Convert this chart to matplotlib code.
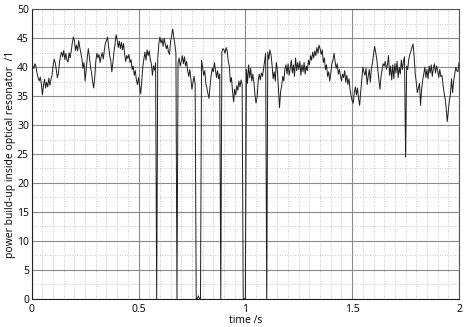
import numpy as np
import matplotlib
matplotlib.use("Agg")
import matplotlib.pyplot as plt
from matplotlib.ticker import MultipleLocator

# sampled trace, dt = 0.005 s, t = 0 ... 2 s
dt = 0.005
power = [
    39.5, 40.2, 39.8, 40.6, 40.1, 38.9, 38.2, 37.6, 38.3, 37.2,
    35.2, 36.8, 37.9, 36.4, 37.4, 36.6, 38.1, 36.9, 37.8, 38.6,
    40.2, 41.4, 40.8, 39.6, 38.2, 38.9, 40.8, 42.0, 42.6, 41.8,
    42.9, 41.3, 42.4, 41.2, 40.9, 42.5, 41.6, 42.8, 44.2, 45.2,
    44.6, 42.9, 43.8, 42.8, 44.6, 43.4, 42.5, 41.5, 39.8, 40.8,
    37.6, 39.5, 41.6, 43.2, 41.8, 40.2, 39.0, 37.5, 36.4, 38.2,
    41.0, 42.4, 41.6, 42.2, 40.8, 41.8, 42.5, 41.4, 42.9, 44.2,
    44.6, 45.2, 43.6, 42.0, 41.2, 39.2, 40.8, 42.6, 44.0, 45.6,
    44.8, 43.4, 44.5, 43.2, 44.3, 43.0, 44.1, 42.2, 41.0, 42.0,
    41.5, 42.2, 40.8, 41.3, 39.6, 40.2, 38.6, 39.4, 37.8, 37.0,
    38.2, 36.8, 35.4, 37.5, 40.0, 41.4, 42.6, 41.2, 43.0, 42.0,
    42.8, 41.4, 40.6, 38.6, 40.2, 39.5, 40.8, 0.0, 41.5, 44.0,
    45.2, 44.2, 44.8, 43.6, 45.0, 44.0, 43.2, 43.8, 42.6, 42.2,
    44.5, 45.4, 46.6, 45.2, 44.0, 42.4, 0.0, 40.8, 41.6, 40.2,
    41.0, 42.0, 40.6, 41.8, 40.2, 41.0, 39.4, 38.4, 39.6, 38.0,
    36.2, 37.4, 38.4, 37.0, 0.0, 0.0, 0.5, 0.0, 0.0, 41.2,
    40.0, 38.6, 39.4, 37.2, 36.4, 35.4, 34.6, 36.8, 38.6, 39.8,
    39.2, 40.8, 39.6, 38.2, 39.4, 38.0, 38.8, 0.0, 42.6, 43.2,
    43.0, 42.4, 43.4, 42.8, 41.0, 40.2, 37.4, 38.2, 35.8, 34.0,
    36.2, 35.2, 36.8, 36.0, 37.6, 36.6, 37.8, 37.0, 0.0, 0.0,
    0.0, 39.6, 37.2, 40.4, 38.2, 39.8, 37.6, 38.8, 37.4, 35.2,
    33.8, 34.8, 37.6, 38.8, 37.8, 39.0, 38.4, 39.6, 41.0, 42.4,
    0.0, 42.6, 41.4, 43.0, 42.2, 40.4, 38.0, 39.2, 37.6, 40.8,
    39.4, 36.2, 33.0, 35.8, 36.8, 38.4, 37.6, 39.6, 40.4, 38.8,
    40.6, 38.6, 39.8, 41.2, 39.0, 40.4, 38.4, 41.6, 39.4, 40.8,
    39.6, 41.0, 38.6, 40.4, 39.2, 40.8, 38.8, 40.2, 39.4, 41.2,
    40.4, 42.0, 41.2, 42.6, 41.6, 42.8, 42.0, 43.4, 42.4, 43.8,
    43.2, 42.2, 43.0, 40.8, 41.6, 39.6, 40.4, 38.4, 39.2, 37.6,
    39.0, 40.6, 41.2, 42.4, 41.0, 39.8, 40.6, 38.8, 39.6, 38.6,
    37.6, 38.8, 38.2, 39.4, 37.4, 38.6, 37.0, 38.0, 36.2, 35.0,
    34.2, 33.8, 35.6, 36.6, 35.2, 36.4, 34.6, 33.4, 35.8, 37.8,
    40.0, 39.2, 38.6, 39.8, 37.0, 38.4, 39.6, 37.4, 39.8, 40.8,
    42.2, 43.6, 42.6, 41.4, 39.6, 37.8, 36.2, 38.4, 39.6, 40.6,
    40.2, 41.0, 39.6, 40.4, 42.0, 38.6, 40.2, 37.8, 40.4, 38.0,
    40.6, 39.0, 41.0, 38.2, 40.0, 38.8, 41.2, 39.6, 41.0, 41.8,
    24.5, 40.2, 39.6, 41.4, 42.2, 42.8, 43.4, 44.0, 41.8, 39.0,
    37.4, 35.6, 36.4, 37.2, 33.4, 36.2, 37.8, 38.8, 40.0, 38.2,
    39.6, 38.0, 40.2, 39.0, 40.4, 38.4, 39.8, 40.6, 39.0, 40.2,
    39.4, 38.2, 39.6, 38.4, 38.6, 37.0, 35.6, 34.6, 33.0, 30.6,
    32.4, 34.2, 35.4, 38.0, 35.6, 37.6, 38.8, 40.0, 39.4, 39.2,
    40.8,
]
time_s = np.arange(len(power)) * dt

x_ticks = [0, 0.5, 1, 1.5, 2]
x_tick_labels = ["0", "0.5", "1", "1.5", "2"]
y_ticks = [0, 5, 10, 15, 20, 25, 30, 35, 40, 45, 50]

plt.rcParams['font.family'] = ['Open Sans', 'DejaVu Sans']

fig = plt.figure(figsize=(4.65, 3.27), dpi=100)
ax = fig.add_axes([31.7 / 465, 28.3 / 327, (459 - 31.7) / 465, (298.7 - 9.3) / 327])

ax.plot(time_s, power, color='#1e1e1e', lw=0.7)

ax.set_xlim(0, 2)
ax.set_ylim(0, 50)
ax.set_xticks(x_ticks)
ax.set_xticklabels(x_tick_labels)
ax.set_yticks(y_ticks)
ax.xaxis.set_minor_locator(MultipleLocator(0.05))
ax.yaxis.set_minor_locator(MultipleLocator(2.5))

ax.grid(which='major', color='#8a8a8a', lw=0.8, ls='-')
ax.grid(which='minor', color='#b5b5b5', lw=0.6, ls=(0, (1, 2)))
ax.set_axisbelow(True)

ax.tick_params(which='both', length=0)
ax.tick_params(axis='x', labelsize=7.5, pad=4)
ax.tick_params(axis='y', labelsize=7.5, pad=2)

for s in ax.spines.values():
    s.set_color('#555555')
    s.set_linewidth(0.8)
ax.spines['left'].set_color('#222222')
ax.spines['bottom'].set_color('#222222')

ax.set_xlabel('time /s', fontsize=7.5, labelpad=0)
ax.set_ylabel('power build-up inside optical resonator  /1', fontsize=7.5, labelpad=1)

fig.savefig('out.png', dpi=100)
